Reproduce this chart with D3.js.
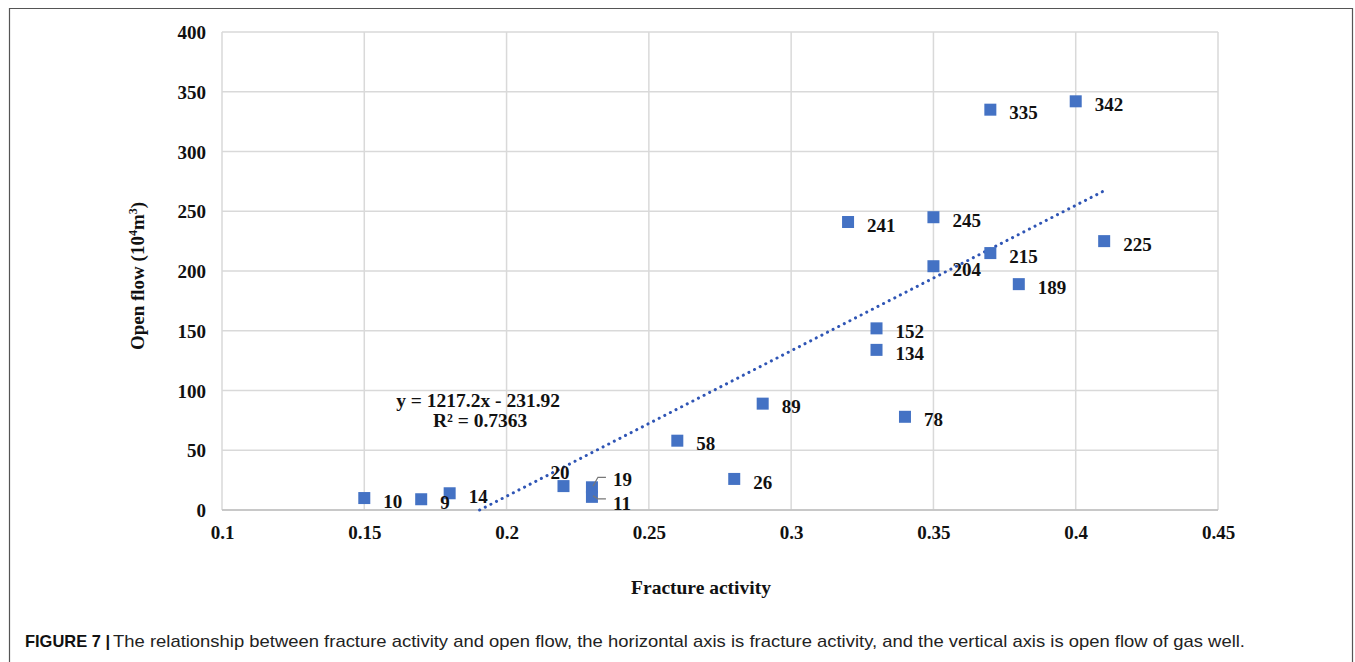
<!DOCTYPE html>
<html>
<head>
<meta charset="utf-8">
<script src="https://cdn.jsdelivr.net/npm/d3@7"></script>
<style>
  body { margin: 0; background: #fff; overflow: hidden; }
  svg { display: block; }
  .serif { font-family: "Liberation Serif", "Times New Roman", serif; font-weight: bold; fill: #111; }
  .caption { font-family: "Liberation Sans", Arial, sans-serif; font-size: 17px; fill: #222; }
</style>
</head>
<body>
<svg id="chart"></svg>
<script>
// Data
const fractureActivity = [0.15, 0.17, 0.18, 0.22, 0.23, 0.23, 0.26, 0.28, 0.29, 0.32, 0.33, 0.33, 0.34, 0.35, 0.35, 0.37, 0.37, 0.38, 0.40, 0.41];
const openFlow = [10, 9, 14, 20, 19, 11, 58, 26, 89, 241, 152, 134, 78, 245, 204, 335, 215, 189, 342, 225];
const xTicks = [0.1, 0.15, 0.2, 0.25, 0.3, 0.35, 0.4, 0.45];
const yTicks = [0, 50, 100, 150, 200, 250, 300, 350, 400];
const trendSlope = 1217.2;
const trendIntercept = -231.92;

const width = 1355;
const height = 662;
const margin = { top: 32, right: 137, bottom: 152, left: 222 };
const innerWidth = width - margin.left - margin.right;
const innerHeight = height - margin.top - margin.bottom;

const svg = d3.select("#chart")
    .attr("width", width)
    .attr("height", height);

// Figure frame (open at the bottom, the page continues below)
svg.append("path")
    .attr("d", `M9.5,${height} V8.5 H1352.5 V${height}`)
    .attr("fill", "none")
    .attr("stroke", "#555")
    .attr("stroke-width", 1.2);

const xScale = d3.scaleLinear().domain([0.1, 0.45]).range([0, innerWidth]);
const yScale = d3.scaleLinear().domain([0, 400]).range([innerHeight, 0]);

const g = svg.append("g")
    .attr("transform", `translate(${margin.left},${margin.top})`);

// Grid lines
g.append("g").selectAll("line")
    .data(yTicks)
    .enter().append("line")
    .attr("x1", 0).attr("x2", innerWidth)
    .attr("y1", d => yScale(d)).attr("y2", d => yScale(d))
    .attr("stroke", "#d9d9d9").attr("stroke-width", 1.5);

g.append("g").selectAll("line")
    .data(xTicks)
    .enter().append("line")
    .attr("y1", 0).attr("y2", innerHeight)
    .attr("x1", d => xScale(d)).attr("x2", d => xScale(d))
    .attr("stroke", "#d9d9d9").attr("stroke-width", 1.5);

// Axes (labels only, Excel style)
const xAxis = d3.axisBottom(xScale).tickValues(xTicks).tickSize(0).tickPadding(16).tickFormat(d => d3.format("")(+d.toFixed(2)));
const yAxis = d3.axisLeft(yScale).tickValues(yTicks).tickSize(0).tickPadding(16);

const xg = g.append("g").attr("transform", `translate(0,${innerHeight})`).call(xAxis);
const yg = g.append("g").call(yAxis);
[xg, yg].forEach(a => {
  a.select(".domain").remove();
  a.selectAll("text").attr("class", "serif").style("font-size", "19px").attr("fill", "#111");
});
yg.selectAll("text").attr("dy", "0.35em");

// bottom axis line
g.append("line")
    .attr("x1", 0).attr("x2", innerWidth)
    .attr("y1", innerHeight).attr("y2", innerHeight)
    .attr("stroke", "#bfbfbf").attr("stroke-width", 1.5);

// Trendline
const trendX = [(-trendIntercept) / trendSlope, 0.41];
g.append("line")
    .attr("x1", xScale(trendX[0])).attr("y1", yScale(trendSlope * trendX[0] + trendIntercept))
    .attr("x2", xScale(trendX[1])).attr("y2", yScale(trendSlope * trendX[1] + trendIntercept))
    .attr("stroke", "#2f55b5")
    .attr("stroke-width", 3)
    .attr("stroke-linecap", "round")
    .attr("stroke-dasharray", "0.1 6.2");

// Points
const points = fractureActivity.map((x, i) => ({ x, y: openFlow[i] }));

g.selectAll(".pt")
    .data(points)
    .enter().append("rect")
    .attr("class", "pt")
    .attr("x", d => xScale(d.x) - 6)
    .attr("y", d => yScale(d.y) - 6)
    .attr("width", 12).attr("height", 12)
    .attr("fill", "#4472c4");

// Data labels, most sit to the right of the marker
const labelOffset = i => {
  if (openFlow[i] === 20 && fractureActivity[i] === 0.22) return [-13, -14];
  if (openFlow[i] === 19) return [21, -8];
  if (openFlow[i] === 11) return [21, 6];
  return [19, 3];
};

g.selectAll(".lbl")
    .data(points)
    .enter().append("text")
    .attr("class", "serif")
    .style("font-size", "19px")
    .attr("x", (d, i) => xScale(d.x) + labelOffset(i)[0])
    .attr("y", (d, i) => yScale(d.y) + labelOffset(i)[1])
    .attr("dy", "0.35em")
    .text(d => d.y);

// leader lines for the two overlapping points at 0.23
const leaders = points.filter(d => d.x === 0.23);
g.selectAll(".leader")
    .data(leaders)
    .enter().append("path")
    .attr("fill", "none")
    .attr("stroke", "#777")
    .attr("stroke-width", 1.2)
    .attr("d", d => {
      const cx = xScale(d.x), cy = yScale(d.y);
      const ty = d.y === 19 ? cy - 10 : cy + 2;
      return `M${cx + 1},${cy - 1} L${cx + 6},${ty} L${cx + 14},${ty}`;
    });

// Trend equation
g.append("text")
    .attr("class", "serif").style("font-size", "19.5px")
    .attr("x", xScale(0.19)).attr("y", yScale(86))
    .attr("text-anchor", "middle")
    .text("y = 1217.2x - 231.92");
g.append("text")
    .attr("class", "serif").style("font-size", "19.5px")
    .attr("x", xScale(0.19) + 2).attr("y", yScale(69.5))
    .attr("text-anchor", "middle")
    .text("R² = 0.7363");

// Axis titles
svg.append("text")
    .attr("class", "serif").style("font-size", "19.5px")
    .attr("x", 701).attr("y", 594)
    .attr("text-anchor", "middle")
    .text("Fracture activity");

const yTitle = svg.append("text")
    .attr("class", "serif").style("font-size", "19px")
    .attr("transform", "translate(144,276) rotate(-90)")
    .attr("text-anchor", "middle");
yTitle.append("tspan").text("Open flow (10");
yTitle.append("tspan").attr("baseline-shift", "super").style("font-size", "12px").text("4");
yTitle.append("tspan").text("m");
yTitle.append("tspan").attr("baseline-shift", "super").style("font-size", "12px").text("3");
yTitle.append("tspan").text(")");

// Caption
svg.append("text")
    .attr("class", "caption")
    .style("font-weight", "bold").style("fill", "#111")
    .attr("x", 25).attr("y", 647)
    .attr("textLength", 85)
    .attr("lengthAdjust", "spacingAndGlyphs")
    .text("FIGURE 7 |");
svg.append("text")
    .attr("class", "caption")
    .attr("x", 113).attr("y", 647)
    .attr("textLength", 1132)
    .attr("lengthAdjust", "spacingAndGlyphs")
    .text("The relationship between fracture activity and open flow, the horizontal axis is fracture activity, and the vertical axis is open flow of gas well.");
</script>
</body>
</html>
